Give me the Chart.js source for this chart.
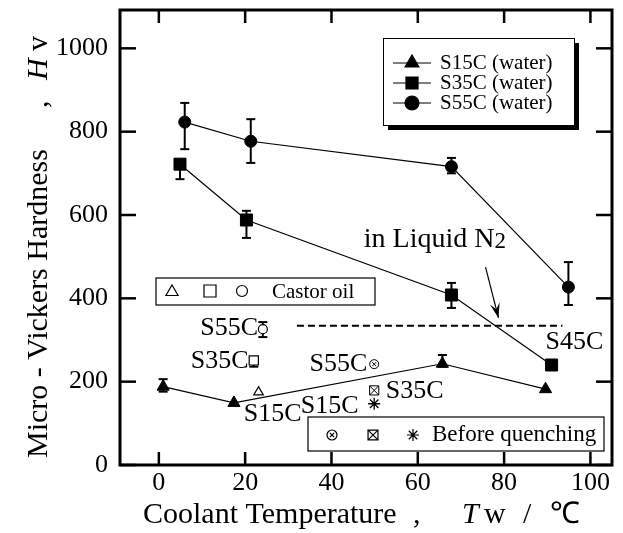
<!DOCTYPE html>
<html>
<head>
<meta charset="utf-8">
<script src="https://cdn.jsdelivr.net/npm/chart.js@4.4.1/dist/chart.umd.min.js"></script>
<style>
  html, body { margin: 0; padding: 0; background: #fff; }
  #wrap { width: 623px; height: 533px; }
</style>
</head>
<body>
<div id="wrap"><canvas id="c" width="623" height="533"></canvas></div>
<script>
// ---- data ----
const xTicks = [0, 20, 40, 60, 80, 100];
const yTicks = [0, 200, 400, 600, 800, 1000];

// water quenched (temperature, hardness, error bar low/high)
const s15Temp = [1, 17.4, 65.7, 89.6];
const s15Hv   = [188, 149, 243, 182];
const s15Lo   = [176, null, 236, null];
const s15Hi   = [206, null, 264, null];

const s35Temp = [4.9, 20.3, 67.8, 91];
const s35Hv   = [722, 588, 408, 240];
const s35Lo   = [686, 545, 377, null];
const s35Hi   = [730, 610, 437, null];

const s55Temp = [6.0, 21.3, 67.8, 94.9];
const s55Hv   = [823, 777, 716, 427];
const s55Lo   = [758, 725, 700, 384];
const s55Hi   = [869, 830, 737, 487];

// castor oil (open symbols)
const castorTemp = [23.1, 22.0, 24.1];   // S15C, S35C, S55C
const castorHv   = [175, 251, 326];
const castorLo   = [null, 236, 307];
const castorHi   = [null, 251, 343];

// before quenching (placed at ~50 on the x axis)
const beforeTemp = [49.9, 49.9, 49.9];   // S55C, S35C, S15C
const beforeHv   = [242, 179, 147];

// liquid N2 level (S45C) and its arrow
const n2Temp  = [32, 93.5];
const n2Hv    = [334, 334];
const arrowTemp = [75.7, 78.7];
const arrowHv   = [475, 353];

const FONT = '"Liberation Serif", "Times New Roman", serif';

const pts = (xs, ys) => xs.map((v, i) => ({ x: v, y: ys[i] }));

function filled(label, xs, ys, style, r) {
  return {
    label, data: pts(xs, ys), showLine: true,
    borderColor: '#000', borderWidth: 1.2,
    pointStyle: style, pointRadius: r, pointBackgroundColor: '#000',
    pointBorderColor: '#000', pointBorderWidth: 1
  };
}
function open(label, xs, ys, style, r, bw) {
  return {
    label, data: pts(xs, ys), showLine: false,
    pointStyle: style, pointRadius: r, pointBackgroundColor: '#fff',
    pointBorderColor: '#000', pointBorderWidth: bw || 1.2
  };
}

const errSets = [
  { xs: s15Temp, lo: s15Lo, hi: s15Hi },
  { xs: s35Temp, lo: s35Lo, hi: s35Hi },
  { xs: s55Temp, lo: s55Lo, hi: s55Hi },
  { xs: castorTemp, lo: castorLo, hi: castorHi }
];

function seg(ctx, x1, y1, x2, y2) {
  ctx.beginPath(); ctx.moveTo(x1, y1); ctx.lineTo(x2, y2); ctx.stroke();
}

function mark(ctx, style, r, x, y, fill) {
  ctx.fillStyle = fill;
  ctx.strokeStyle = '#000';
  Chart.helpers.drawPoint(ctx, { pointStyle: style, radius: r, borderWidth: 1.2, rotation: 0 }, x, y);
}

const errorBars = {
  id: 'errorBars',
  beforeDatasetsDraw(c) {
    const { ctx, scales: { x, y } } = c;
    ctx.save();
    ctx.strokeStyle = '#000';
    ctx.lineWidth = 2;
    errSets.forEach(s => {
      s.xs.forEach((t, i) => {
        if (s.lo[i] == null) return;
        const px = x.getPixelForValue(t);
        const pl = y.getPixelForValue(s.lo[i]);
        const ph = y.getPixelForValue(s.hi[i]);
        seg(ctx, px, pl, px, ph);
        seg(ctx, px - 4.5, pl, px + 4.5, pl);
        seg(ctx, px - 4.5, ph, px + 4.5, ph);
      });
    });
    ctx.restore();
  }
};

const frame = {
  id: 'frame',
  afterDraw(c) {
    const { ctx, chartArea: a, scales: { x, y } } = c;
    ctx.save();
    ctx.strokeStyle = '#000';
    ctx.lineWidth = 2.5;
    xTicks.forEach(v => {
      const px = x.getPixelForValue(v);
      seg(ctx, px, a.bottom, px, a.bottom - 13);
      seg(ctx, px, a.top, px, a.top + 13);
    });
    yTicks.forEach(v => {
      const py = y.getPixelForValue(v);
      seg(ctx, a.left, py, a.left + 16, py);
      seg(ctx, a.right, py, a.right - 16, py);
    });
    ctx.lineWidth = 3;
    ctx.strokeRect(a.left, a.top, a.width, a.height);

    // arrow head for the liquid N2 pointer
    const x1 = x.getPixelForValue(arrowTemp[0]), y1 = y.getPixelForValue(arrowHv[0]);
    const x2 = x.getPixelForValue(arrowTemp[1]), y2 = y.getPixelForValue(arrowHv[1]);
    const ang = Math.atan2(y2 - y1, x2 - x1);
    ctx.fillStyle = '#000';
    ctx.beginPath();
    ctx.moveTo(x2, y2);
    ctx.lineTo(x2 - 15 * Math.cos(ang) + 5 * Math.sin(ang), y2 - 15 * Math.sin(ang) - 5 * Math.cos(ang));
    ctx.lineTo(x2 - 9 * Math.cos(ang), y2 - 9 * Math.sin(ang));
    ctx.lineTo(x2 - 15 * Math.cos(ang) - 5 * Math.sin(ang), y2 - 15 * Math.sin(ang) + 5 * Math.cos(ang));
    ctx.closePath();
    ctx.fill();

    // in-plot labels (anchored to data coordinates)
    ctx.fillStyle = '#000';
    ctx.textBaseline = 'middle';
    ctx.font = '26px ' + FONT;
    const lab = (t, vx, vy, al) => {
      ctx.textAlign = al;
      ctx.fillText(t, x.getPixelForValue(vx), y.getPixelForValue(vy));
    };
    lab('S55C', 23.0, 329, 'right');
    lab('S35C', 20.8, 250, 'right');
    lab('S15C', 19.7, 123, 'left');
    lab('S55C', 48.3, 242, 'right');
    lab('S35C', 52.6, 178, 'left');
    lab('S15C', 46.3, 140, 'right');
    lab('S45C', 89.6, 295, 'left');
    ctx.font = '28px ' + FONT;
    ctx.textAlign = 'left';
    const lx = x.getPixelForValue(47.5), ly = y.getPixelForValue(541);
    ctx.fillText('in Liquid N', lx, ly);
    const w = ctx.measureText('in Liquid N').width;
    ctx.font = '23px ' + FONT;
    ctx.fillText('2', lx + w, ly + 2);

    // water legend with shadow
    ctx.fillStyle = '#000';
    ctx.fillRect(388, 43, 191, 87);
    ctx.fillStyle = '#fff';
    ctx.fillRect(383, 38, 191, 87);
    ctx.lineWidth = 1;
    ctx.strokeRect(383.5, 38.5, 191, 87);
    const rows = [['triangle', 8, 'S15C (water)'], ['rect', 8.5, 'S35C (water)'], ['circle', 7, 'S55C (water)']];
    rows.forEach((r, i) => {
      const ry = 63 + i * 20;
      ctx.lineWidth = 1.2;
      ctx.strokeStyle = '#000';
      seg(ctx, 393, ry, 431, ry);
      mark(ctx, r[0], r[1], 412, ry, '#000');
      ctx.fillStyle = '#000';
      ctx.font = '21px ' + FONT;
      ctx.textAlign = 'left';
      ctx.fillText(r[2], 440, ry);
    });

    // castor oil legend
    ctx.lineWidth = 1.2;
    ctx.strokeRect(156, 278, 219, 27);
    mark(ctx, 'triangle', 7, 172, 292, '#fff');
    mark(ctx, 'rect', 8.5, 210, 291, '#fff');
    mark(ctx, 'circle', 5.5, 242, 291, '#fff');
    ctx.fillStyle = '#000';
    ctx.font = '21px ' + FONT;
    ctx.fillText('Castor oil', 272, 292);

    // before quenching legend
    ctx.fillStyle = '#fff';
    ctx.fillRect(308, 417, 296, 34);
    ctx.strokeRect(308, 417, 296, 34);
    mark(ctx, 'circle', 5, 332, 435, '#fff');
    mark(ctx, 'crossRot', 3, 332, 435, '#fff');
    mark(ctx, 'rect', 7, 373, 435, '#fff');
    mark(ctx, 'crossRot', 7, 373, 435, '#fff');
    mark(ctx, 'star', 6, 413, 435, '#fff');
    ctx.fillStyle = '#000';
    ctx.font = '23px ' + FONT;
    ctx.fillText('Before quenching', 432, 435);

    // axis titles
    ctx.font = '30px ' + FONT;
    ctx.textAlign = 'left';
    ctx.textBaseline = 'alphabetic';
    ctx.fillText('Coolant Temperature', 143, 523);
    ctx.fillText(',', 413, 523);
    ctx.font = 'italic 30px ' + FONT;
    ctx.fillText('T', 462, 523);
    ctx.font = '30px ' + FONT;
    ctx.fillText('w', 484, 523);
    ctx.fillText('/', 523, 523);
    ctx.fillText('\u2103', 550, 523);

    ctx.translate(47, 458);
    ctx.rotate(-Math.PI / 2);
    ctx.fillText('Micro - Vickers Hardness', 0, 0);
    ctx.fillText(',', 350, 0);
    ctx.font = 'italic 30px ' + FONT;
    ctx.fillText('H', 378, 0);
    ctx.font = '30px ' + FONT;
    ctx.fillText('v', 407, 0);
    ctx.restore();
  }
};

const chart = new Chart(document.getElementById('c').getContext('2d'), {
  type: 'scatter',
  data: {
    datasets: [
      { label: 'N2 level', data: pts(n2Temp, n2Hv), showLine: true, borderColor: '#000',
        borderWidth: 2, borderDash: [7, 4], pointRadius: 0 },
      { label: 'arrow', data: pts(arrowTemp, arrowHv), showLine: true, borderColor: '#000',
        borderWidth: 1.2, pointRadius: 0 },
      filled('S15C (water)', s15Temp, s15Hv, 'triangle', 7),
      filled('S35C (water)', s35Temp, s35Hv, 'rect', 8.5),
      filled('S55C (water)', s55Temp, s55Hv, 'circle', 6),
      open('S15C castor', castorTemp.slice(0, 1), castorHv.slice(0, 1), 'triangle', 5.5),
      open('S35C castor', castorTemp.slice(1, 2), castorHv.slice(1, 2), 'rect', 6.5),
      open('S55C castor', castorTemp.slice(2, 3), castorHv.slice(2, 3), 'circle', 4.5),
      // crosses listed first so they are drawn on top of their open symbol
      open('S55C before x', beforeTemp.slice(0, 1), beforeHv.slice(0, 1), 'crossRot', 2.8, 1),
      open('S55C before', beforeTemp.slice(0, 1), beforeHv.slice(0, 1), 'circle', 4.5, 1),
      open('S35C before x', beforeTemp.slice(1, 2), beforeHv.slice(1, 2), 'crossRot', 6.5, 1),
      open('S35C before', beforeTemp.slice(1, 2), beforeHv.slice(1, 2), 'rect', 6.5, 1),
      open('S15C before', beforeTemp.slice(2, 3), beforeHv.slice(2, 3), 'star', 6, 1.3)
    ]
  },
  options: {
    responsive: false,
    animation: false,
    layout: { padding: { top: 10, right: 11, left: 0, bottom: 0 } },
    plugins: { legend: { display: false }, tooltip: { enabled: false } },
    scales: {
      x: {
        type: 'linear', min: -9, max: 105,
        afterBuildTicks: s => { s.ticks = xTicks.map(v => ({ value: v })); },
        afterFit: s => { s.height = 68; s.paddingLeft = 0; s.paddingRight = 0; },
        grid: { display: false, drawTicks: false },
        border: { display: false },
        ticks: { color: '#000', font: { family: FONT, size: 26 }, padding: 3, maxRotation: 0,
                 callback: v => String(v) }
      },
      y: {
        type: 'linear', min: 0, max: 1092,
        afterBuildTicks: s => { s.ticks = yTicks.map(v => ({ value: v })); },
        afterFit: s => { s.width = 120; s.paddingTop = 0; s.paddingBottom = 0; },
        grid: { display: false, drawTicks: false },
        border: { display: false },
        ticks: { color: '#000', font: { family: FONT, size: 26 }, padding: 12,
                 callback: v => String(v) }
      }
    }
  },
  plugins: [errorBars, frame]
});
</script>
</body>
</html>
